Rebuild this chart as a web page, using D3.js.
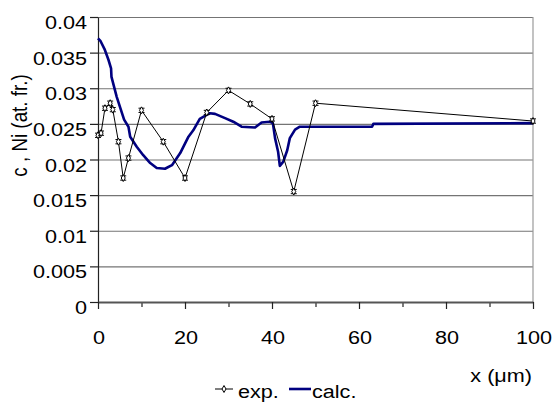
<!DOCTYPE html>
<html>
<head>
<meta charset="utf-8">
<script src="https://cdn.jsdelivr.net/npm/d3@7"></script>
<style>
  body { margin: 0; background: #fff; }
  svg { display: block; }
  text { font-family: "Liberation Sans", Arial, sans-serif; fill: #000; }
</style>
</head>
<body>
<svg id="chart" width="555" height="403"></svg>
<script>
// measured data, x in micrometres, concentration in atomic fraction
const expX = [0, 0.7, 1.6, 2.8, 3.4, 4.7, 5.8, 7, 10, 15, 20, 25, 30, 35, 40, 45, 50, 100];
const expC = [0.0234, 0.0237, 0.0272, 0.0279, 0.0270, 0.0225, 0.0174, 0.0202, 0.0269, 0.0225,
              0.0174, 0.0266, 0.0297, 0.0278, 0.0257, 0.0155, 0.0279, 0.0254];

// calculated profile
const calcX = [0, 0.6, 1.5, 2.4, 3.0, 3.1, 4.3, 6.0, 7.0, 7.4, 8.9, 10.4, 12.0, 13.5, 15.4, 17.0,
               18.9, 20.8, 21.9, 23.4, 25.7, 26.9, 29.2, 31.1, 33.0, 36.1, 37.6, 39.5, 40.2,
               40.7, 41.4, 41.8, 42.6, 43.5, 44.1, 45.3, 46.4, 63.0, 63.3, 100];
const calcC = [0.0370, 0.0366, 0.0355, 0.0340, 0.0328, 0.0316, 0.0288, 0.0256, 0.0246, 0.0232,
               0.0218, 0.0206, 0.0195, 0.0188, 0.0187, 0.0192, 0.0209, 0.0232, 0.0241, 0.0257,
               0.0265, 0.0264, 0.0258, 0.0253, 0.0246, 0.0245, 0.0252, 0.0253, 0.0251, 0.0230,
               0.0211, 0.0191, 0.0197, 0.0213, 0.0230, 0.0242, 0.0246, 0.0246, 0.0250, 0.0251];

const yTicks = [0, 0.005, 0.01, 0.015, 0.02, 0.025, 0.03, 0.035, 0.04];
const yTickLabels = ["0", "0.005", "0.01", "0.015", "0.02", "0.025", "0.03", "0.035", "0.04"];
const xMajor = [0, 20, 40, 60, 80, 100];
const xMinor = [10, 30, 50, 70, 90];
const errC = 0.0003;

const fs = 18.8;     // font size
const sx = 1.15;     // the original picture is stretched sideways

const svg = d3.select("#chart");

const x = d3.scaleLinear().domain([0, 100]).range([98, 533]);
const y = d3.scaleLinear().domain([0, 0.04]).range([302, 17]);

// gridlines
svg.append("g")
    .attr("transform", "translate(98,0)")
    .call(d3.axisLeft(y).tickValues(yTicks.slice(1)).tickSize(-(x(100) - x(0))).tickFormat(""))
    .call(g => g.select(".domain").remove())
    .selectAll("line").attr("stroke", "#747474").attr("stroke-width", 1.2);

// right border of plot
svg.append("line")
    .attr("x1", x(100)).attr("x2", x(100))
    .attr("y1", y(0.04)).attr("y2", y(0))
    .attr("stroke", "#9a9a9a").attr("stroke-width", 1.2);

// y axis
const yAxis = svg.append("g")
    .attr("transform", "translate(98,0)")
    .call(d3.axisLeft(y).tickValues(yTicks).tickSize(8).tickSizeOuter(0)
        .tickFormat((d, i) => yTickLabels[i]));
yAxis.select(".domain").attr("stroke", "#222").attr("stroke-width", 1.2);
yAxis.selectAll("line").attr("stroke", "#222").attr("stroke-width", 1.2);
yAxis.selectAll("text")
    .attr("x", null).attr("dy", null)
    .attr("transform", `translate(-11,11.5) scale(${sx},1)`)
    .attr("text-anchor", "end")
    .style("font-size", fs + "px").style("font-family", null);

// x axis, minor then major ticks
svg.append("g")
    .attr("transform", `translate(0,${y(0)})`)
    .call(d3.axisBottom(x).tickValues(xMinor).tickSize(5).tickFormat(""))
    .call(g => g.select(".domain").remove())
    .selectAll("line").attr("stroke", "#222").attr("stroke-width", 1.2);

const xAxis = svg.append("g")
    .attr("transform", `translate(0,${y(0)})`)
    .call(d3.axisBottom(x).tickValues(xMajor).tickSize(7).tickSizeOuter(0));
xAxis.select(".domain").attr("stroke", "#555").attr("stroke-width", 2);
xAxis.selectAll("line").attr("stroke", "#222").attr("stroke-width", 1.2);
xAxis.selectAll("text")
    .attr("y", null).attr("dy", null)
    .attr("transform", `translate(0.5,41.5) scale(${sx},1)`)
    .attr("text-anchor", "middle")
    .style("font-size", fs + "px").style("font-family", null);

// axis titles
svg.append("text")
    .attr("transform", `translate(27,125.5) scale(${sx},1) rotate(-90)`)
    .attr("text-anchor", "middle")
    .style("font-size", fs + "px")
    .text("c , Ni (at. fr.)");

svg.append("text")
    .attr("transform", `translate(532,382) scale(${sx},1)`)
    .attr("text-anchor", "end")
    .style("font-size", fs + "px")
    .text("x (\u03BCm)");

// calculated line
const calcData = calcX.map((v, i) => [v, calcC[i]]);
svg.append("path")
    .datum(calcData)
    .attr("fill", "none")
    .attr("stroke", "#000080")
    .attr("stroke-width", 2.6)
    .attr("stroke-linejoin", "round")
    .attr("d", d3.line().x(d => x(d[0])).y(d => y(d[1])));

// experimental line with markers
const expData = expX.map((v, i) => [v, expC[i]]);
svg.append("path")
    .datum(expData)
    .attr("fill", "none")
    .attr("stroke", "#000")
    .attr("stroke-width", 1)
    .attr("d", d3.line().x(d => x(d[0])).y(d => y(d[1])));

const diamond = d3.symbol().type(d3.symbolDiamond).size(14);

const pts = svg.append("g").selectAll("g")
    .data(expData)
    .join("g")
    .attr("transform", d => `translate(${x(d[0])},${y(d[1])})`);

// error bars
pts.append("line")
    .attr("y1", d => y(d[1] - errC) - y(d[1]))
    .attr("y2", d => y(d[1] + errC) - y(d[1]))
    .attr("stroke", "#000").attr("stroke-width", 1);
pts.append("line")
    .attr("x1", -3).attr("x2", 3)
    .attr("y1", d => y(d[1] - errC) - y(d[1]))
    .attr("y2", d => y(d[1] - errC) - y(d[1]))
    .attr("stroke", "#000").attr("stroke-width", 1);
pts.append("line")
    .attr("x1", -3).attr("x2", 3)
    .attr("y1", d => y(d[1] + errC) - y(d[1]))
    .attr("y2", d => y(d[1] + errC) - y(d[1]))
    .attr("stroke", "#000").attr("stroke-width", 1);
pts.append("path")
    .attr("d", diamond)
    .attr("fill", "#fff")
    .attr("stroke", "#000")
    .attr("stroke-width", 1);

// legend (kept just inside the bottom edge)
const leg = svg.append("g");
leg.append("line")
    .attr("x1", 215).attr("x2", 233).attr("y1", 389).attr("y2", 389)
    .attr("stroke", "#000").attr("stroke-width", 1);
leg.append("path")
    .attr("transform", "translate(224,389)")
    .attr("d", d3.symbol().type(d3.symbolDiamond).size(14))
    .attr("fill", "#fff").attr("stroke", "#000");
leg.append("text")
    .attr("transform", `translate(238,398) scale(${sx},1)`)
    .style("font-size", fs + "px")
    .text("exp.");
leg.append("line")
    .attr("x1", 289).attr("x2", 311).attr("y1", 389).attr("y2", 389)
    .attr("stroke", "#000080").attr("stroke-width", 2.6);
leg.append("text")
    .attr("transform", `translate(312,398) scale(${sx},1)`)
    .style("font-size", fs + "px")
    .text("calc.");
</script>
</body>
</html>
